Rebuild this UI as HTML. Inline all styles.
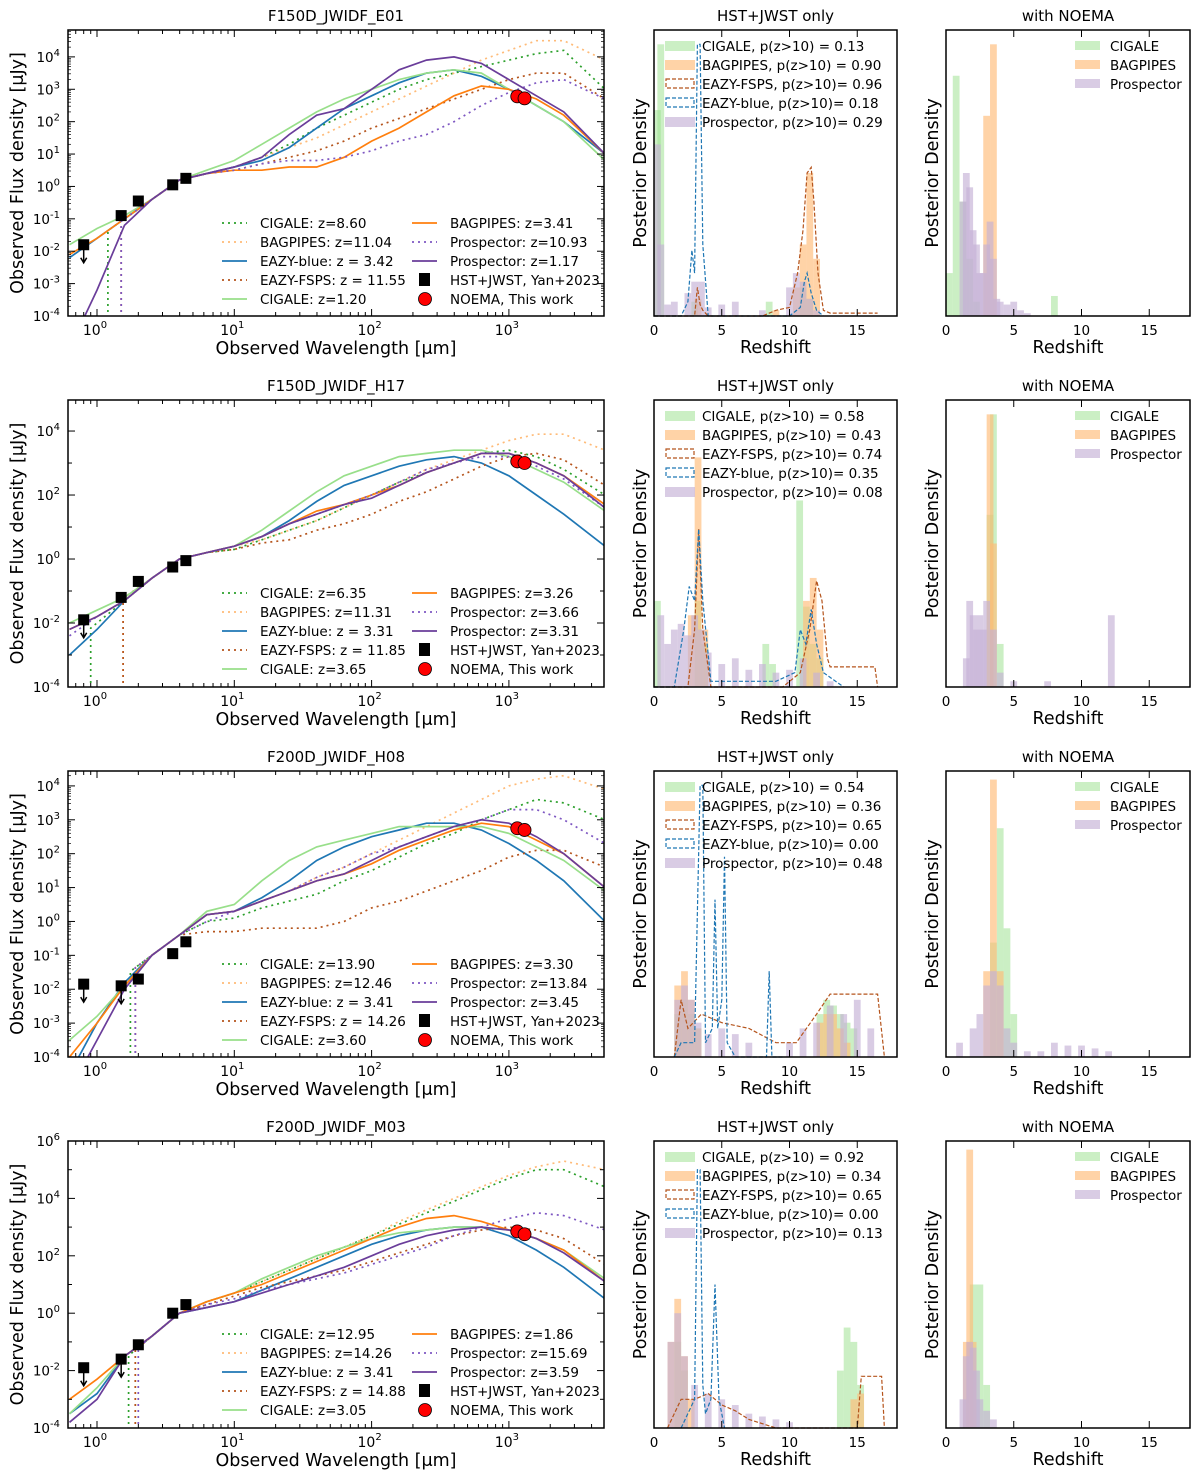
<!DOCTYPE html>
<html><head><meta charset="utf-8"><style>
html,body{margin:0;padding:0;background:#fff;}
svg{display:block;font-family:"DejaVu Sans","Liberation Sans",sans-serif;}
</style></head><body>
<svg id="fig" xmlns="http://www.w3.org/2000/svg" width="1200" height="1480" viewBox="0 0 1200 1480"></svg>
<script>
// ---------- DATA ----------
const titles = ["F150D_JWIDF_E01","F150D_JWIDF_H17","F200D_JWIDF_H08","F200D_JWIDF_M03"];
const logWave = [-0.2,0,0.2,0.4,0.6,0.8,1.0,1.2,1.4,1.6,1.8,2.0,2.2,2.4,2.6,2.8,3.0,3.2,3.4,3.7];
// row 1
const r1CigaleDot  = [-5,-5,-1.0,-0.4,0.2,0.4,0.6,0.9,1.3,1.8,2.2,2.6,3.0,3.3,3.5,3.7,3.9,4.1,4.2,3.0];
const r1BagDot     = [-5,-5,-5,-0.4,0.2,0.4,0.6,0.9,1.2,1.5,1.9,2.3,2.7,3.1,3.5,3.9,4.2,4.5,4.5,3.9];
const r1EazyBlue   = [-2.2,-1.6,-1.0,-0.4,0.2,0.4,0.6,0.8,1.2,1.8,2.4,2.8,3.2,3.5,3.6,3.4,3.0,2.5,2.0,1.0];
const r1FspsDot    = [-5,-5,-5,-0.4,0.2,0.4,0.5,0.7,0.9,1.1,1.4,1.8,2.1,2.4,2.7,3.0,3.3,3.5,3.5,2.7];
const r1CigaleSol  = [-1.8,-1.3,-0.9,-0.4,0.2,0.5,0.8,1.3,1.8,2.3,2.7,3.0,3.3,3.5,3.6,3.5,3.0,2.5,2.0,0.8];
const r1BagSol     = [-2.1,-1.6,-1.0,-0.4,0.2,0.4,0.5,0.5,0.6,0.6,0.9,1.4,1.8,2.3,2.8,3.1,3.0,2.7,2.2,1.0];
const r1ProspDot   = [-5,-5,-5,-0.4,0.2,0.4,0.5,0.7,0.8,0.8,0.9,1.1,1.4,1.6,2.0,2.5,2.9,3.2,3.3,2.7];
const r1ProspSol   = [-5,-3.2,-1.2,-0.4,0.2,0.4,0.6,0.9,1.6,2.2,2.4,3.0,3.6,3.9,4.0,3.8,3.3,2.8,2.3,1.0];
// row 2
const r2CigaleDot  = [-5,-2.0,-1.3,-0.6,0,0.2,0.3,0.6,0.9,1.2,1.6,2.0,2.4,2.7,3.0,3.3,3.4,3.2,2.8,2.0];
const r2BagDot     = [-5,-5,-5,-0.6,0,0.2,0.4,0.6,0.9,1.2,1.6,2.0,2.4,2.8,3.1,3.4,3.7,3.9,3.9,3.4];
const r2EazyBlue   = [-3.0,-2.2,-1.3,-0.6,0,0.2,0.4,0.7,1.2,1.8,2.3,2.6,2.9,3.1,3.2,3.0,2.6,2.0,1.4,0.4];
const r2FspsDot    = [-5,-5,-5,-0.6,0,0.2,0.3,0.5,0.6,0.9,1.1,1.4,1.8,2.1,2.5,2.9,3.2,3.3,3.1,2.3];
const r2CigaleSol  = [-2.0,-1.6,-1.2,-0.6,0,0.2,0.4,0.9,1.5,2.1,2.6,2.9,3.2,3.3,3.4,3.4,3.2,2.8,2.4,1.5];
const r2BagSol     = [-2.2,-1.8,-1.3,-0.6,0,0.2,0.4,0.7,1.1,1.5,1.7,2.0,2.3,2.7,3.0,3.3,3.3,3.0,2.6,1.7];
const r2ProspDot   = [-2.4,-1.8,-1.3,-0.6,0,0.2,0.4,0.7,1.1,1.4,1.7,2.0,2.4,2.8,3.0,3.2,3.2,2.9,2.5,1.6];
const r2ProspSol   = [-2.2,-1.8,-1.3,-0.6,0,0.2,0.4,0.7,1.1,1.4,1.7,1.9,2.3,2.7,3.0,3.3,3.3,3.0,2.6,1.6];
// row 3
const r3CigaleDot  = [-5,-5,-5,-1.0,-0.4,0.0,0.1,0.4,0.6,0.8,1.2,1.5,1.9,2.3,2.6,3.0,3.3,3.6,3.5,3.0];
const r3BagDot     = [-5,-5,-5,-1.0,-0.4,0.2,0.3,0.6,0.9,1.3,1.6,2.0,2.4,2.8,3.2,3.6,4.0,4.2,4.3,3.9];
const r3EazyBlue   = [-4.5,-3.0,-1.8,-1.0,-0.4,0.2,0.3,0.7,1.2,1.8,2.2,2.5,2.7,2.9,2.9,2.7,2.3,1.8,1.2,0];
const r3FspsDot    = [-5,-5,-5,-1.0,-0.4,-0.3,-0.3,-0.2,-0.2,-0.2,0,0.4,0.6,0.9,1.2,1.5,1.9,2.1,2.1,1.6];
const r3CigaleSol  = [-3.5,-2.8,-1.9,-1.0,-0.4,0.3,0.5,1.2,1.8,2.2,2.4,2.6,2.8,2.8,2.8,2.8,2.6,2.2,1.8,0.9];
const r3BagSol     = [-4.0,-3.0,-1.9,-1.0,-0.4,0.2,0.3,0.6,0.9,1.2,1.4,1.7,2.1,2.4,2.7,2.9,2.8,2.4,2.0,1.0];
const r3ProspDot   = [-5,-5,-5,-1.0,-0.4,0.0,0.3,0.6,0.9,1.3,1.6,2.0,2.2,2.5,2.8,3.0,3.3,3.3,3.0,2.3];
const r3ProspSol   = [-5,-3.5,-2.0,-1.0,-0.4,0.2,0.3,0.6,0.9,1.2,1.4,1.8,2.2,2.5,2.8,3.0,2.9,2.5,2.0,1.0];
// row 4
const r4CigaleDot  = [-5,-5,-5,-0.8,0,0.4,0.7,1.1,1.5,1.9,2.3,2.7,3.1,3.5,3.9,4.3,4.7,5.0,5.0,4.4];
const r4BagDot     = [-5,-5,-5,-0.8,0,0.4,0.7,1.1,1.5,1.9,2.3,2.7,3.2,3.6,4.0,4.4,4.8,5.1,5.3,5.0];
const r4EazyBlue   = [-3.5,-2.8,-1.5,-0.8,0,0.2,0.4,0.8,1.2,1.6,2.0,2.4,2.7,2.9,3.0,3.0,2.7,2.2,1.6,0.5];
const r4FspsDot    = [-5,-5,-5,-0.8,0,0.3,0.6,0.9,1.1,1.3,1.5,1.8,2.1,2.4,2.7,2.9,3.0,2.9,2.6,1.7];
const r4CigaleSol  = [-3.5,-2.6,-1.5,-0.8,0,0.4,0.7,1.2,1.6,2.0,2.3,2.6,2.8,2.9,3.0,3.0,2.9,2.6,2.2,1.2];
const r4BagSol     = [-3.0,-2.3,-1.5,-0.8,0,0.4,0.7,1.0,1.4,1.8,2.2,2.6,3.0,3.3,3.4,3.2,2.9,2.6,2.2,1.1];
const r4ProspDot   = [-5,-5,-5,-0.8,0,0.3,0.5,0.8,1.0,1.2,1.4,1.7,2.0,2.3,2.7,3.0,3.3,3.5,3.4,2.9];
const r4ProspSol   = [-3.8,-3.0,-1.5,-0.8,0,0.2,0.4,0.7,1.0,1.3,1.6,2.0,2.4,2.7,2.9,3.0,2.9,2.6,2.1,1.1];

// Lyman-break cutoff wavelengths (um) for the dotted curves [cigale, bagpipes, fsps, prospector]
const r1Cut = [1.2,1.5,1.5,1.5];
const r2Cut = [0.9,1.55,1.55,0];
const r3Cut = [1.75,1.9,1.9,1.9];
const r4Cut = [1.7,1.9,1.9,2.0];

const photWave = [0.8,1.5,2.0,3.56,4.44];
const r1Phot = [-1.8,-0.9,-0.45,0.05,0.25];
const r2Phot = [-1.9,-1.2,-0.7,-0.25,-0.05];
const r3Phot = [-1.85,-1.9,-1.7,-0.95,-0.6];
const r4Phot = [-1.9,-1.6,-1.1,0.0,0.3];
const r1Upper = [1,0,0,0,0];
const r2Upper = [1,0,0,0,0];
const r3Upper = [1,1,0,0,0];
const r4Upper = [1,1,0,0,0];
const noemaWave = [1150,1300];
const r1Noema = [2.78,2.72];
const r2Noema = [3.05,3.0];
const r3Noema = [2.75,2.7];
const r4Noema = [2.85,2.75];

const r1Z = ["8.60","11.04","3.42","11.55","1.20","3.41","10.93","1.17"];
const r2Z = ["6.35","11.31","3.31","11.85","3.65","3.26","3.66","3.31"];
const r3Z = ["13.90","12.46","3.41","14.26","3.60","3.30","13.84","3.45"];
const r4Z = ["12.95","14.26","3.41","14.88","3.05","1.86","15.69","3.59"];

const r1P = ["0.13","0.90","0.96","0.18","0.29"];
const r2P = ["0.58","0.43","0.74","0.35","0.08"];
const r3P = ["0.54","0.36","0.65","0.00","0.48"];
const r4P = ["0.92","0.34","0.65","0.00","0.13"];

const r1mCigZ=[0.25,0.5,3.0,8.5,11.0,11.5]; const r1mCigH=[0.72,0.95,0.05,0.05,0.1,0.06];
const r1mBagZ=[3.25,9.0,10.5,11.0,11.5,12.0]; const r1mBagH=[0.06,0.02,0.1,0.25,0.5,0.2];
const r1mProZ=[0.25,0.5,1.0,1.5,2.5,3.0,3.5,4.0,5.0,6.0,8.0,10.0,10.5,11.0,11.5,12.0]; const r1mProH=[0.6,0.25,0.04,0.05,0.08,0.12,0.12,0.03,0.04,0.05,0.02,0.1,0.15,0.12,0.06,0.02];
const r1mFspZ=[0,2.5,3.0,3.2,3.4,3.6,4.0,8.0,9.0,10.0,10.6,11.0,11.3,11.6,11.8,12.1,12.5,13,16.5]; const r1mFspH=[0,0,0,0.1,0.04,0.02,0,0,0.02,0.03,0.15,0.3,0.5,0.52,0.4,0.15,0.02,0.01,0.01];
const r1mBluZ=[0,2.0,2.5,2.8,3.0,3.2,3.4,3.6,4.0,7.0,10.0,10.8,11.1,11.3,11.6,12.0,12.5]; const r1mBluH=[0,0,0.05,0.23,0.15,0.95,0.95,0.25,0,0,0,0.03,0.12,0.15,0.08,0.02,0];
const r1rCigZ=[0.25,0.75,1.25,1.75,2.25,8.0]; const r1rCigH=[0.15,0.84,0.4,0.2,0.05,0.07];
const r1rBagZ=[3.0,3.5]; const r1rBagH=[0.7,0.95];
const r1rProZ=[1.25,1.5,1.75,2.0,2.25,2.5,2.75,3.0,3.25,3.5,3.75,4.0,4.5,5.0,5.5,6.0]; const r1rProH=[0.4,0.5,0.45,0.3,0.25,0.15,0.15,0.25,0.33,0.2,0.06,0.05,0.04,0.05,0.02,0.01];
const r2mCigZ=[0.25,3.25,3.75,8.25,8.75,10.75,11.25,11.75,12.25]; const r2mCigH=[0.3,0.3,0.15,0.15,0.08,0.65,0.28,0.15,0.1];
const r2mBagZ=[2.75,3.25,3.75,11.25,11.75,12.25]; const r2mBagH=[0.25,0.8,0.2,0.3,0.38,0.2];
const r2mProZ=[0.5,1.0,1.5,2.0,2.5,3.0,3.5,4.0,5.0,6.0,7.0,8.0,9.0,10.0,11.0,12.0,13.0]; const r2mProH=[0.25,0.15,0.2,0.22,0.18,0.25,0.2,0.12,0.08,0.1,0.06,0.08,0.05,0.06,0.1,0.05,0.02];
const r2mFspZ=[0,2.5,3.0,3.3,3.6,4.2,9.5,10.8,11.5,12.0,12.4,12.8,13.0,16.3,16.5]; const r2mFspH=[0,0,0.2,0.55,0.2,0,0,0.05,0.2,0.37,0.3,0.1,0.07,0.07,0];
const r2mBluZ=[0,1.5,2.2,2.6,3.0,3.3,3.6,4.2,9.0,10.4,10.8,11.2,11.6,12.0,12.5,14]; const r2mBluH=[0,0,0.2,0.35,0.3,0.55,0.3,0.02,0.02,0.05,0.2,0.15,0.27,0.15,0.05,0];
const r2rCigZ=[3.25,3.5,4.0]; const r2rCigH=[0.6,0.95,0.15];
const r2rBagZ=[3.25,3.5]; const r2rBagH=[0.95,0.5];
const r2rProZ=[1.5,1.75,2.0,2.25,2.5,2.75,3.0,3.5,4.0,5.0,7.5,12.2]; const r2rProH=[0.1,0.3,0.25,0.2,0.25,0.2,0.3,0.2,0.05,0.02,0.02,0.25];
const r3mCigZ=[1.75,2.25,2.75,3.25,12.25,12.75,13.25,13.75,14.25,14.75]; const r3mCigH=[0.15,0.2,0.15,0.1,0.15,0.2,0.18,0.15,0.12,0.1];
const r3mBagZ=[1.75,2.25,2.75,3.25,12.25,12.75,13.25,13.75,14.25]; const r3mBagH=[0.25,0.3,0.2,0.1,0.12,0.15,0.15,0.1,0.05];
const r3mProZ=[1.75,2.25,2.75,3.25,4.0,5.0,6.0,7.0,10.0,11.0,12.0,13.0,14.0,15.0,16.0]; const r3mProH=[0.2,0.25,0.2,0.12,0.08,0.1,0.08,0.05,0.05,0.1,0.12,0.18,0.15,0.2,0.1];
const r3mFspZ=[1.5,2.0,2.5,3.5,5.0,7.0,9.0,10.5,12.0,13.0,16.5,17.0]; const r3mFspH=[0,0.2,0.1,0.15,0.12,0.1,0.05,0.05,0.15,0.22,0.22,0];
const r3mBluZ=[1.5,2.0,3.0,3.4,3.6,3.8,4.3,4.5,4.7,5.0,5.2,5.4,6.0,8.3,8.5,8.7,9.5]; const r3mBluH=[0,0.05,0.05,0.95,0.95,0.05,0.1,0.55,0.1,0.2,0.7,0.05,0,0,0.3,0,0];
const r3rCigZ=[3.5,4.0,4.5,5.0]; const r3rCigH=[0.4,0.8,0.45,0.15];
const r3rBagZ=[3.0,3.5,4.0]; const r3rBagH=[0.3,0.97,0.3];
const r3rProZ=[1.0,2.0,2.5,3.0,3.5,4.0,4.5,5.0,6.0,7.0,8.0,9.0,10.0,11.0,12.0]; const r3rProH=[0.05,0.1,0.15,0.25,0.3,0.25,0.1,0.05,0.02,0.02,0.05,0.04,0.04,0.03,0.02];
const r4mCigZ=[1.75,2.25,13.75,14.25,14.75,15.25]; const r4mCigH=[0.3,0.2,0.2,0.35,0.3,0.15];
const r4mBagZ=[1.25,1.75,2.25,2.75,14.75,15.25]; const r4mBagH=[0.3,0.45,0.25,0.1,0.1,0.12];
const r4mProZ=[1.25,1.75,2.25,3.0,4.0,5.0,6.0,7.0,8.0,9.0,10.0]; const r4mProH=[0.3,0.4,0.25,0.15,0.12,0.1,0.08,0.05,0.04,0.03,0.02];
const r4mFspZ=[1.0,2.0,3.0,4.0,5.0,6.0,7.0,9.0,15.0,15.3,16.8,17.0]; const r4mFspH=[0,0.1,0.1,0.12,0.08,0.06,0.03,0,0,0.18,0.18,0];
const r4mBluZ=[2.0,3.0,3.2,3.4,3.6,3.8,4.2,4.5,4.8,5.2]; const r4mBluH=[0,0.1,0.9,0.9,0.15,0.05,0.1,0.5,0.1,0];
const r4rCigZ=[2.0,2.5,3.0]; const r4rCigH=[0.5,0.5,0.15];
const r4rBagZ=[1.5,1.75,2.0]; const r4rBagH=[0.3,0.97,0.3];
const r4rProZ=[1.25,1.5,1.75,2.0,2.25,2.5,3.0,3.5]; const r4rProH=[0.1,0.25,0.3,0.28,0.2,0.1,0.06,0.03];

// ---------- LAYOUT ----------
const NS='http://www.w3.org/2000/svg';
const svg=document.getElementById('fig');
const rowTop=[30,400,771,1141], rowBot=[316,687,1057,1428];
const yMax=[4.83,4.97,4.44,6.0];
const yStep=[1,2,1,2];
const C={cig:'#2ca02c',cigL:'#98df8a',bag:'#ff7f0e',bagL:'#ffbb78',blue:'#1f77b4',fsps:'#b5541c',pros:'#6a3d9a',prosD:'#7e57c2'};
function mk(tag,parent){const e=document.createElementNS(NS,tag);parent.appendChild(e);return e;}
function att(e,o){for(const k in o)e.setAttribute(k,o[k]);return e;}
function txt(parent,x,y,s,size,anchor,extra){const t=mk('text',parent);att(t,{x:x,y:y,'font-size':size,'text-anchor':anchor||'start',fill:'#000'});if(extra)att(t,extra);t.textContent=s;return t;}

const sedRows=[
 {lines:[r1CigaleDot,r1BagDot,r1EazyBlue,r1FspsDot,r1CigaleSol,r1BagSol,r1ProspDot,r1ProspSol],phot:r1Phot,up:r1Upper,noema:r1Noema,z:r1Z,cut:r1Cut},
 {lines:[r2CigaleDot,r2BagDot,r2EazyBlue,r2FspsDot,r2CigaleSol,r2BagSol,r2ProspDot,r2ProspSol],phot:r2Phot,up:r2Upper,noema:r2Noema,z:r2Z,cut:r2Cut},
 {lines:[r3CigaleDot,r3BagDot,r3EazyBlue,r3FspsDot,r3CigaleSol,r3BagSol,r3ProspDot,r3ProspSol],phot:r3Phot,up:r3Upper,noema:r3Noema,z:r3Z,cut:r3Cut},
 {lines:[r4CigaleDot,r4BagDot,r4EazyBlue,r4FspsDot,r4CigaleSol,r4BagSol,r4ProspDot,r4ProspSol],phot:r4Phot,up:r4Upper,noema:r4Noema,z:r4Z,cut:r4Cut}];
const lineStyle=[[C.cig,'2 4'],[C.bagL,'2 4'],[C.blue,''],[C.fsps,'2 4'],[C.cigL,''],[C.bag,''],[C.prosD,'2 4'],[C.pros,'']];
const lineNames=['cigale-dotted','bagpipes-dotted','eazy-blue','eazy-fsps','cigale-solid','bagpipes-solid','prospector-dotted','prospector-solid'];
const legLabels=['CIGALE: z=','BAGPIPES: z=','EAZY-blue: z = ','EAZY-FSPS: z = ','CIGALE: z=','BAGPIPES: z=','Prospector: z=','Prospector: z='];
const cutIndex={0:0,1:1,3:2,6:3};

const SX0=68,SX1=604;
function lx(l){return 97+137.3*l;}

function drawSED(r){
 const top=rowTop[r],bot=rowBot[r],ym=yMax[r];
 const ly=v=>bot-(v+4)/(ym+4)*(bot-top);
 const g=mk('g',svg);
 
 
 const cp=mk('clipPath',g);att(cp,{id:'sc'+r});
 att(mk('rect',cp),{x:SX0,y:top,width:SX1-SX0,height:bot-top});
 const cg=mk('g',g);cg.setAttribute('clip-path','url(#sc'+r+')');
 const d=sedRows[r];
 d.lines.forEach((arr,i)=>{
  let pts=[];
  const ci=cutIndex[i];
  const cut=(ci!==undefined)?d.cut[ci]:0;
  if(cut>0){
   const cx=lx(Math.log10(cut));
   let first=arr.findIndex((v,k)=>v>-5 && lx(logWave[k])>cx);
   const lc=Math.log10(cut);
   // value at cutoff interpolated from next two valid points
   const k=first, v0=arr[k], v1=arr[k+1];
   const vc=v0-(v1-v0)/(logWave[k+1]-logWave[k])*(logWave[k]-lc);
   pts.push([cx,bot+20]);pts.push([cx,ly(vc)]);
   for(let j=first;j<arr.length;j++)pts.push([lx(logWave[j]),ly(arr[j])]);
  } else {
   arr.forEach((v,k)=>pts.push([lx(logWave[k]),ly(v)]));
  }
  const p=mk('polyline',cg);
  
  
  att(p,{points:pts.map(q=>q[0].toFixed(1)+','+q[1].toFixed(1)).join(' '),fill:'none',stroke:lineStyle[i][0],'stroke-width':1.7});
  if(lineStyle[i][1])p.setAttribute('stroke-dasharray',lineStyle[i][1]);
 });
 d.phot.forEach((v,i)=>{
  const x=lx(Math.log10(photWave[i])),y=ly(v);
  if(d.up[i]){const a=mk('path',cg);att(a,{d:`M${x},${y} V${y+18} M${x-3},${y+13} L${x},${y+18} L${x+3},${y+13}`,stroke:'#000','stroke-width':1.5,fill:'none'});}
  const s=mk('rect',cg);
  
  
  att(s,{x:x-5.5,y:y-5.5,width:11,height:11,fill:'#000'});
 });
 d.noema.forEach((v,i)=>{
  const c=mk('circle',cg);
  
  
  att(c,{cx:lx(Math.log10(noemaWave[i])),cy:ly(v),r:6.5,fill:'#ff0000',stroke:'#000','stroke-width':0.8});
 });
 att(mk('rect',g),{x:SX0,y:top,width:SX1-SX0,height:bot-top,fill:'none',stroke:'#000','stroke-width':1.5});
 for(let e=-1;e<=3;e++){for(let m=1;m<10;m++){const l=e+Math.log10(m);const x=lx(l);if(x<SX0||x>SX1)continue;const len=m==1?7:4;
  att(mk('line',g),{x1:x,x2:x,y1:bot,y2:bot-len,stroke:'#000','stroke-width':1});
  att(mk('line',g),{x1:x,x2:x,y1:top,y2:top+len,stroke:'#000','stroke-width':1});
  if(m==1&&e>=0){const t=txt(g,x-2,bot+19,'10',14,'middle');const s=mk('tspan',t);att(s,{dy:-7,'font-size':10});s.textContent=String(e);}
 }}
 for(let e=-4;e<=Math.floor(ym);e++){const y=ly(e);const maj=(e%yStep[r]==0);
  for(const [x1,x2] of [[SX0,SX0+(maj?7:4)],[SX1,SX1-(maj?7:4)]])att(mk('line',g),{x1:x1,x2:x2,y1:y,y2:y,stroke:'#000','stroke-width':1});
  if(maj){const t=txt(g,SX0-8,y+5,'10',13.5,'end');const s=mk('tspan',t);att(s,{dy:-6,'font-size':10});s.textContent=String(e);}
  for(let m=2;m<10&&yStep[r]==1;m++){const yy=ly(e+Math.log10(m));if(yy<top)break;att(mk('line',g),{x1:SX0,x2:SX0+3,y1:yy,y2:yy,stroke:'#000','stroke-width':0.7});att(mk('line',g),{x1:SX1,x2:SX1-3,y1:yy,y2:yy,stroke:'#000','stroke-width':0.7});}
 }
 const tt=txt(g,336,top-9,titles[r],15,'middle');
 
 
 const xl=txt(g,336,bot+38,'Observed Wavelength [μm]',17.5,'middle');
 
 
 const yl=txt(g,0,0,'Observed Flux density [μJy]',17.5,'middle',{transform:`translate(23,${(top+bot)/2}) rotate(-90)`});
 
 
 const leg=mk('g',g);
 
 
 [0,1,2,3,4,5,6,7].forEach(i=>{const col=i<5?0:1;const row=i<5?i:i-5;const y=top+198+row*19;const mx=col?412:222,tx=col?450:260;
  const l=mk('line',leg);att(l,{x1:mx,x2:mx+25,y1:y-5,y2:y-5,stroke:lineStyle[i][0],'stroke-width':1.7});if(lineStyle[i][1])l.setAttribute('stroke-dasharray',lineStyle[i][1]);
  const e=txt(leg,tx,y,legLabels[i]+d.z[i],13.5);
  
  
 });
 let y=top+198+3*19;att(mk('rect',leg),{x:419,y:y-12,width:11,height:13,fill:'#000'});
 const e1=txt(leg,450,y,'HST+JWST, Yan+2023',13.5);
 
 
 y+=19;att(mk('circle',leg),{cx:425,cy:y-5,r:6.5,fill:'#ff0000',stroke:'#000','stroke-width':0.8});
 const e2=txt(leg,450,y,'NOEMA, This work',13.5);
 
 
}

const histRows=[
 {m:[[r1mCigZ,r1mCigH],[r1mBagZ,r1mBagH],[r1mProZ,r1mProH]],ml:[[r1mFspZ,r1mFspH],[r1mBluZ,r1mBluH]],r:[[r1rCigZ,r1rCigH],[r1rBagZ,r1rBagH],[r1rProZ,r1rProH]],p:r1P},
 {m:[[r2mCigZ,r2mCigH],[r2mBagZ,r2mBagH],[r2mProZ,r2mProH]],ml:[[r2mFspZ,r2mFspH],[r2mBluZ,r2mBluH]],r:[[r2rCigZ,r2rCigH],[r2rBagZ,r2rBagH],[r2rProZ,r2rProH]],p:r2P},
 {m:[[r3mCigZ,r3mCigH],[r3mBagZ,r3mBagH],[r3mProZ,r3mProH]],ml:[[r3mFspZ,r3mFspH],[r3mBluZ,r3mBluH]],r:[[r3rCigZ,r3rCigH],[r3rBagZ,r3rBagH],[r3rProZ,r3rProH]],p:r3P},
 {m:[[r4mCigZ,r4mCigH],[r4mBagZ,r4mBagH],[r4mProZ,r4mProH]],ml:[[r4mFspZ,r4mFspH],[r4mBluZ,r4mBluH]],r:[[r4rCigZ,r4rCigH],[r4rBagZ,r4rBagH],[r4rProZ,r4rProH]],p:r4P}];
const barFill=[['#98df8a',0.5],['#ffbb78',0.65],['#c5b0d5',0.65]];
const barNames=['cigale-hist','bagpipes-hist','prospector-hist'];

function drawHist(r,which){
 const top=rowTop[r],bot=rowBot[r];
 const X0=which?946:654,X1=which?1190:897;
 const zx=z=>X0+13.55*z, hy=h=>bot-h*(bot-top);
 const g=mk('g',svg);
 
 
 const d=histRows[r];
 const bars=which?d.r:d.m;
 bars.forEach((s,si)=>{s[0].forEach((z,k)=>{
  const b=mk('rect',g);
  
  
  const w=0.5*13.55;att(b,{x:zx(z)-w/2,y:hy(s[1][k]),width:w,height:s[1][k]*(bot-top),fill:barFill[si][0],'fill-opacity':barFill[si][1]});
 });});
 if(!which){d.ml.forEach((s,si)=>{const p=mk('polyline',g);
  
  
  att(p,{points:s[0].map((z,k)=>zx(z).toFixed(1)+','+hy(s[1][k]).toFixed(1)).join(' '),fill:'none',stroke:si?C.blue:C.fsps,'stroke-width':1.2,'stroke-dasharray':'4 2'});});}
 att(mk('rect',g),{x:X0,y:top,width:X1-X0,height:bot-top,fill:'none',stroke:'#000','stroke-width':1.5});
 [0,5,10,15].forEach(z=>{const x=zx(z);att(mk('line',g),{x1:x,x2:x,y1:bot,y2:bot-7,stroke:'#000'});att(mk('line',g),{x1:x,x2:x,y1:top,y2:top+7,stroke:'#000'});txt(g,x,bot+19,String(z),13.5,'middle');});
 const cx=(X0+X1)/2;
 const tt=txt(g,cx,top-9,which?'with NOEMA':'HST+JWST only',15,'middle');
 
 
 const xl=txt(g,cx,bot+37,'Redshift',17.5,'middle');
 
 
 const yl=txt(g,0,0,'Posterior Density',17.5,'middle',{transform:`translate(${X0-8},${(top+bot)/2}) rotate(-90)`});
 
 
 const leg=mk('g',g);
 
 
 if(which){['CIGALE','BAGPIPES','Prospector'].forEach((s,i)=>{const y=top+21+i*19;att(mk('rect',leg),{x:1075,y:y-10,width:25,height:9,fill:barFill[i][0],'fill-opacity':barFill[i][1]});
  const e=txt(leg,1110,y,s,13.5);
  
  });}
 else{const lab=['CIGALE, p(z>10) = ','BAGPIPES, p(z>10) = ','EAZY-FSPS, p(z>10)= ','EAZY-blue, p(z>10)= ','Prospector, p(z>10)= '];
  const sty=[[0],[1],['d',C.fsps],['d',C.blue],[2]];
  lab.forEach((s,i)=>{const y=top+21+i*19;const st=sty[i];
   if(st[0]==='d')att(mk('rect',leg),{x:666,y:y-10,width:28,height:9,fill:'none',stroke:st[1],'stroke-width':1.2,'stroke-dasharray':'4 2'});
   else att(mk('rect',leg),{x:665,y:y-10,width:30,height:10,fill:barFill[st[0]][0],'fill-opacity':barFill[st[0]][1]});
   const e=txt(leg,702,y,s+d.p[i],13.5);
   
   });}
}
for(let r=0;r<4;r++){drawSED(r);drawHist(r,0);drawHist(r,1);}
</script>
</body></html>
